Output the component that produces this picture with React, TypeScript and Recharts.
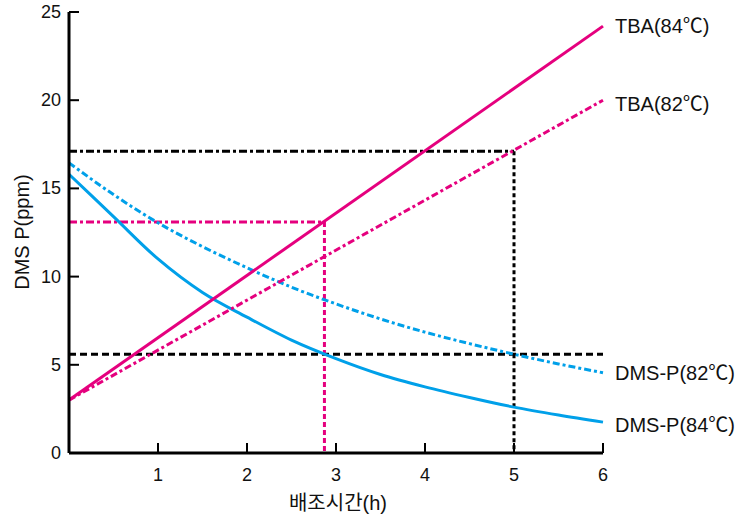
import React from 'react';
import { LineChart, Line, XAxis, YAxis, ReferenceLine } from 'recharts';

// straight TBA lines: only the end points
const tbaHours = [0, 6];
const tba84 = [3, 24.2];
const tba82 = [3, 20];

// DMS-P decay curves
const dmsHours = [0, 0.5, 1, 1.5, 2, 2.5, 3, 3.5, 4, 4.5, 5, 5.5, 6];
const dms84 = [15.8, 13.4, 11.0, 9.1, 7.7, 6.4, 5.35, 4.45, 3.75, 3.15, 2.6, 2.15, 1.75];
const dms82 = [16.45, 14.65, 13.05, 11.7, 10.5, 9.4, 8.45, 7.6, 6.85, 6.2, 5.6, 5.05, 4.55];

const xTicks = [1, 2, 3, 4, 5, 6];
const yTicks = [0, 5, 10, 15, 20, 25];

// guide lines
const guide84Time = 2.87;
const guide84Level = 13.1;
const guide82Time = 5;
const guide82Level = 17.1;
const dmsLimit = 5.6;

const MAGENTA = '#e5007e';
const BLUE = '#00a0e9';
const FONT = '"Liberation Sans", "Noto Sans CJK KR", "DejaVu Sans", sans-serif';

const toRows = (hours: number[], vals: number[]) => hours.map((h, i) => ({ h, v: vals[i] }));

const endLabel = (text: string, count: number, dy = 0) => (props: any) => {
  if (props.index !== count - 1) return null;
  return (
    <text x={props.x + 12} y={props.y + dy} dominantBaseline="central" fontSize={20} fontFamily={FONT} fill="#111">
      {text}
    </text>
  );
};

const XTick = (props: any) => {
  const { x, y, payload } = props;
  return (
    <g>
      <line x1={x} x2={x} y1={y} y2={y - 10} stroke="#000" strokeWidth={2} />
      <text x={x} y={y + 22} textAnchor="middle" dominantBaseline="central" fontSize={18} fontFamily={FONT} fill="#111">
        {payload.value}
      </text>
    </g>
  );
};

const YTick = (props: any) => {
  const { x, y, payload } = props;
  return (
    <g>
      {payload.value !== 0 && <line x1={x} x2={x + 10} y1={y} y2={y} stroke="#000" strokeWidth={2} />}
      <text x={x - 8} y={y} textAnchor="end" dominantBaseline="central" fontSize={18} fontFamily={FONT} fill="#111">
        {payload.value}
      </text>
    </g>
  );
};

const App: React.FC = () => {
  return (
    <div style={{ position: 'absolute', left: 0, top: 0, width: 748, height: 516, background: '#fff' }}>
      <LineChart width={748} height={516} margin={{ top: 12, right: 145, bottom: 33, left: 29 }}>
        <XAxis
          dataKey="h"
          type="number"
          domain={[0, 6]}
          ticks={xTicks}
          allowDuplicatedCategory={false}
          height={30}
          tickSize={0}
          tickMargin={0}
          tickLine={false}
          tick={<XTick />}
          axisLine={{ stroke: '#000', strokeWidth: 3 }}
        />
        <YAxis
          type="number"
          domain={[0, 25]}
          ticks={yTicks}
          width={40}
          tickSize={0}
          tickMargin={0}
          tickLine={false}
          tick={<YTick />}
          axisLine={{ stroke: '#000', strokeWidth: 3 }}
        />

        <ReferenceLine segment={[{ x: 0, y: guide82Level }, { x: guide82Time, y: guide82Level }]} stroke="#000" strokeWidth={3} strokeDasharray="8 3 3 3" />
        <ReferenceLine segment={[{ x: guide82Time, y: guide82Level }, { x: guide82Time, y: 0 }]} stroke="#000" strokeWidth={3} strokeDasharray="4 3" />
        <ReferenceLine segment={[{ x: 0, y: dmsLimit }, { x: 6, y: dmsLimit }]} stroke="#000" strokeWidth={3} strokeDasharray="7 4" />
        <ReferenceLine segment={[{ x: 0, y: guide84Level }, { x: guide84Time, y: guide84Level }]} stroke={MAGENTA} strokeWidth={3} strokeDasharray="8 3 3 3" />
        <ReferenceLine segment={[{ x: guide84Time, y: guide84Level }, { x: guide84Time, y: 0 }]} stroke={MAGENTA} strokeWidth={3} strokeDasharray="5 3" />

        <Line data={toRows(dmsHours, dms82)} dataKey="v" type="monotone" stroke={BLUE} strokeWidth={3} strokeDasharray="7 3 3 3" dot={false} isAnimationActive={false} label={endLabel('DMS-P(82℃)', dmsHours.length)} />
        <Line data={toRows(dmsHours, dms84)} dataKey="v" type="monotone" stroke={BLUE} strokeWidth={3} dot={false} isAnimationActive={false} label={endLabel('DMS-P(84℃)', dmsHours.length, 3)} />
        <Line data={toRows(tbaHours, tba82)} dataKey="v" type="linear" stroke={MAGENTA} strokeWidth={3} strokeDasharray="7 3 3 3" dot={false} isAnimationActive={false} label={endLabel('TBA(82℃)', tbaHours.length, 4)} />
        <Line data={toRows(tbaHours, tba84)} dataKey="v" type="linear" stroke={MAGENTA} strokeWidth={3} dot={false} isAnimationActive={false} label={endLabel('TBA(84℃)', tbaHours.length)} />

        <text x={338} y={503} textAnchor="middle" dominantBaseline="central" fontSize={20} fontFamily={FONT} fill="#111">
          배조시간(h)
        </text>
        <text x={22} y={232} transform="rotate(-90 22 232)" textAnchor="middle" dominantBaseline="central" fontSize={20} fontFamily={FONT} fill="#111">
          DMS P(ppm)
        </text>
      </LineChart>
    </div>
  );
};

export default App;
